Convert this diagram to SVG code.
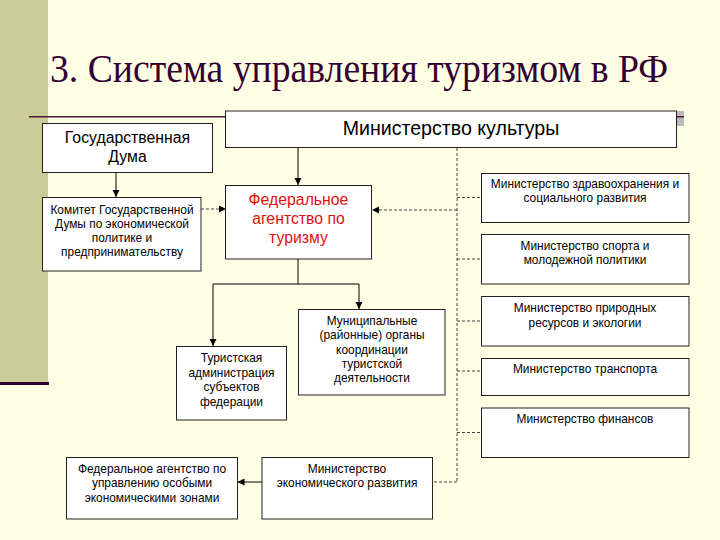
<svg xmlns="http://www.w3.org/2000/svg" width="720" height="540" viewBox="0 0 720 540">
<defs>
<marker id="ah" markerWidth="8" markerHeight="8" refX="7" refY="4" orient="auto" markerUnits="userSpaceOnUse">
<path d="M0,0.5 L7,4 L0,7.5 Z" fill="#000"/>
</marker>
<style>
.box{fill:#fff;stroke:#222;stroke-width:1}
.t{font-family:"Liberation Sans",Arial,sans-serif;fill:#000;text-anchor:middle}
.s11{font-size:11.9px}
.red{fill:#DD1111;font-size:15.8px}
.solid{fill:none;stroke:#000;stroke-width:1}
.dash{fill:none;stroke:#444;stroke-width:1;stroke-dasharray:3,2}
</style>
</defs>
<rect x="0" y="0" width="720" height="540" fill="#FFFFE5"/>
<rect x="0" y="0" width="48" height="383" fill="#CCCC99"/>
<rect x="0" y="382" width="49" height="3" fill="#330033"/>
<text x="50" y="82" font-family="'Liberation Serif','Times New Roman',serif" font-size="40" fill="#330033" textLength="618" lengthAdjust="spacingAndGlyphs">3. Система управления туризмом в РФ</text>
<rect x="29" y="116" width="655" height="1.5" fill="#4a1a3a"/>
<rect x="677" y="111" width="7" height="15" fill="#bbbbbb"/>
<rect x="677" y="116" width="7" height="1.5" fill="#4a1a3a"/>

<g id="connectors">
<line class="solid" x1="116" y1="173" x2="116" y2="197" marker-end="url(#ah)"/>
<line class="solid" x1="298" y1="148" x2="298" y2="185" marker-end="url(#ah)"/>
<polyline class="solid" points="298,259 298,284 213,284 213,346" marker-end="url(#ah)"/>
<polyline class="solid" points="298,284 359,284 359,309" marker-end="url(#ah)"/>
<line class="dash" x1="201" y1="209" x2="226" y2="209" marker-end="url(#ah)"/>
<line class="dash" x1="457" y1="148" x2="457" y2="482"/>
<line class="dash" x1="457" y1="210" x2="372" y2="210" marker-end="url(#ah)"/>
<line class="dash" x1="457" y1="197.5" x2="482" y2="197.5"/>
<line class="dash" x1="457" y1="259" x2="482" y2="259"/>
<line class="dash" x1="457" y1="321" x2="482" y2="321"/>
<line class="dash" x1="457" y1="371" x2="482" y2="371"/>
<line class="dash" x1="457" y1="432.5" x2="482" y2="432.5"/>
<line class="dash" x1="457" y1="482" x2="432" y2="482"/>
<line class="solid" x1="262" y1="482" x2="237.5" y2="482" marker-end="url(#ah)"/>
</g>

<g id="kultury">
<rect class="box" x="225.5" y="111" width="451" height="36.5"/>
<text class="t" x="451" y="135" font-size="19.6">Министерство культуры</text>
</g>
<g id="duma">
<rect class="box" x="42.5" y="123.5" width="170" height="49"/>
<text class="t" x="127.5" y="143" font-size="15.8">Государственная</text>
<text class="t" x="127.5" y="162" font-size="15.8">Дума</text>
</g>
<g id="komitet">
<rect class="box" x="42.5" y="197.5" width="158.5" height="73.5"/>
<text class="t s11" x="122" y="214">Комитет Государственной</text>
<text class="t s11" x="122" y="228">Думы по экономической</text>
<text class="t s11" x="122" y="242">политике и</text>
<text class="t s11" x="122" y="256">предпринимательству</text>
</g>
<g id="federal">
<rect class="box" x="225.5" y="185.5" width="146" height="73.5"/>
<text class="t red" x="298.5" y="205">Федеральное</text>
<text class="t red" x="298.5" y="224">агентство по</text>
<text class="t red" x="298.5" y="243">туризму</text>
</g>
<g id="turist">
<rect class="box" x="176.5" y="346.5" width="110" height="73.5"/>
<text class="t s11" x="231.5" y="362">Туристская</text>
<text class="t s11" x="231.5" y="376.5">администрация</text>
<text class="t s11" x="231.5" y="391">субъектов</text>
<text class="t s11" x="231.5" y="405.5">федерации</text>
</g>
<g id="municipal">
<rect class="box" x="298.5" y="309.5" width="146.5" height="85.5"/>
<text class="t s11" x="372" y="325">Муниципальные</text>
<text class="t s11" x="372" y="339">(районные) органы</text>
<text class="t s11" x="372" y="353.5">координации</text>
<text class="t s11" x="372" y="367.5">туристской</text>
<text class="t s11" x="372" y="381.5">деятельности</text>
</g>
<g id="zdrav">
<rect class="box" x="481.5" y="173.5" width="207.5" height="49"/>
<text class="t s11" x="585" y="188">Министерство здравоохранения и</text>
<text class="t s11" x="585" y="202">социального развития</text>
</g>
<g id="sport">
<rect class="box" x="481.5" y="234.5" width="207.5" height="49.5"/>
<text class="t s11" x="585" y="250">Министерство спорта и</text>
<text class="t s11" x="585" y="264">молодежной политики</text>
</g>
<g id="priroda">
<rect class="box" x="481.5" y="296.5" width="207.5" height="49.5"/>
<text class="t s11" x="585" y="312">Министерство природных</text>
<text class="t s11" x="585" y="326.5">ресурсов и экологии</text>
</g>
<g id="transport">
<rect class="box" x="481.5" y="358.5" width="207.5" height="37"/>
<text class="t s11" x="585" y="373">Министерство транспорта</text>
</g>
<g id="finansy">
<rect class="box" x="481.5" y="408" width="207.5" height="49.5"/>
<text class="t s11" x="585" y="422.5">Министерство финансов</text>
</g>
<g id="zony">
<rect class="box" x="66.5" y="457.5" width="171" height="61.5"/>
<text class="t s11" x="152" y="472.5">Федеральное агентство по</text>
<text class="t s11" x="152" y="487">управлению особыми</text>
<text class="t s11" x="152" y="501.5">экономическими зонами</text>
</g>
<g id="ekonom">
<rect class="box" x="262" y="457.5" width="170.5" height="61.5"/>
<text class="t s11" x="347" y="472.5">Министерство</text>
<text class="t s11" x="347" y="487">экономического развития</text>
</g>
</svg>
